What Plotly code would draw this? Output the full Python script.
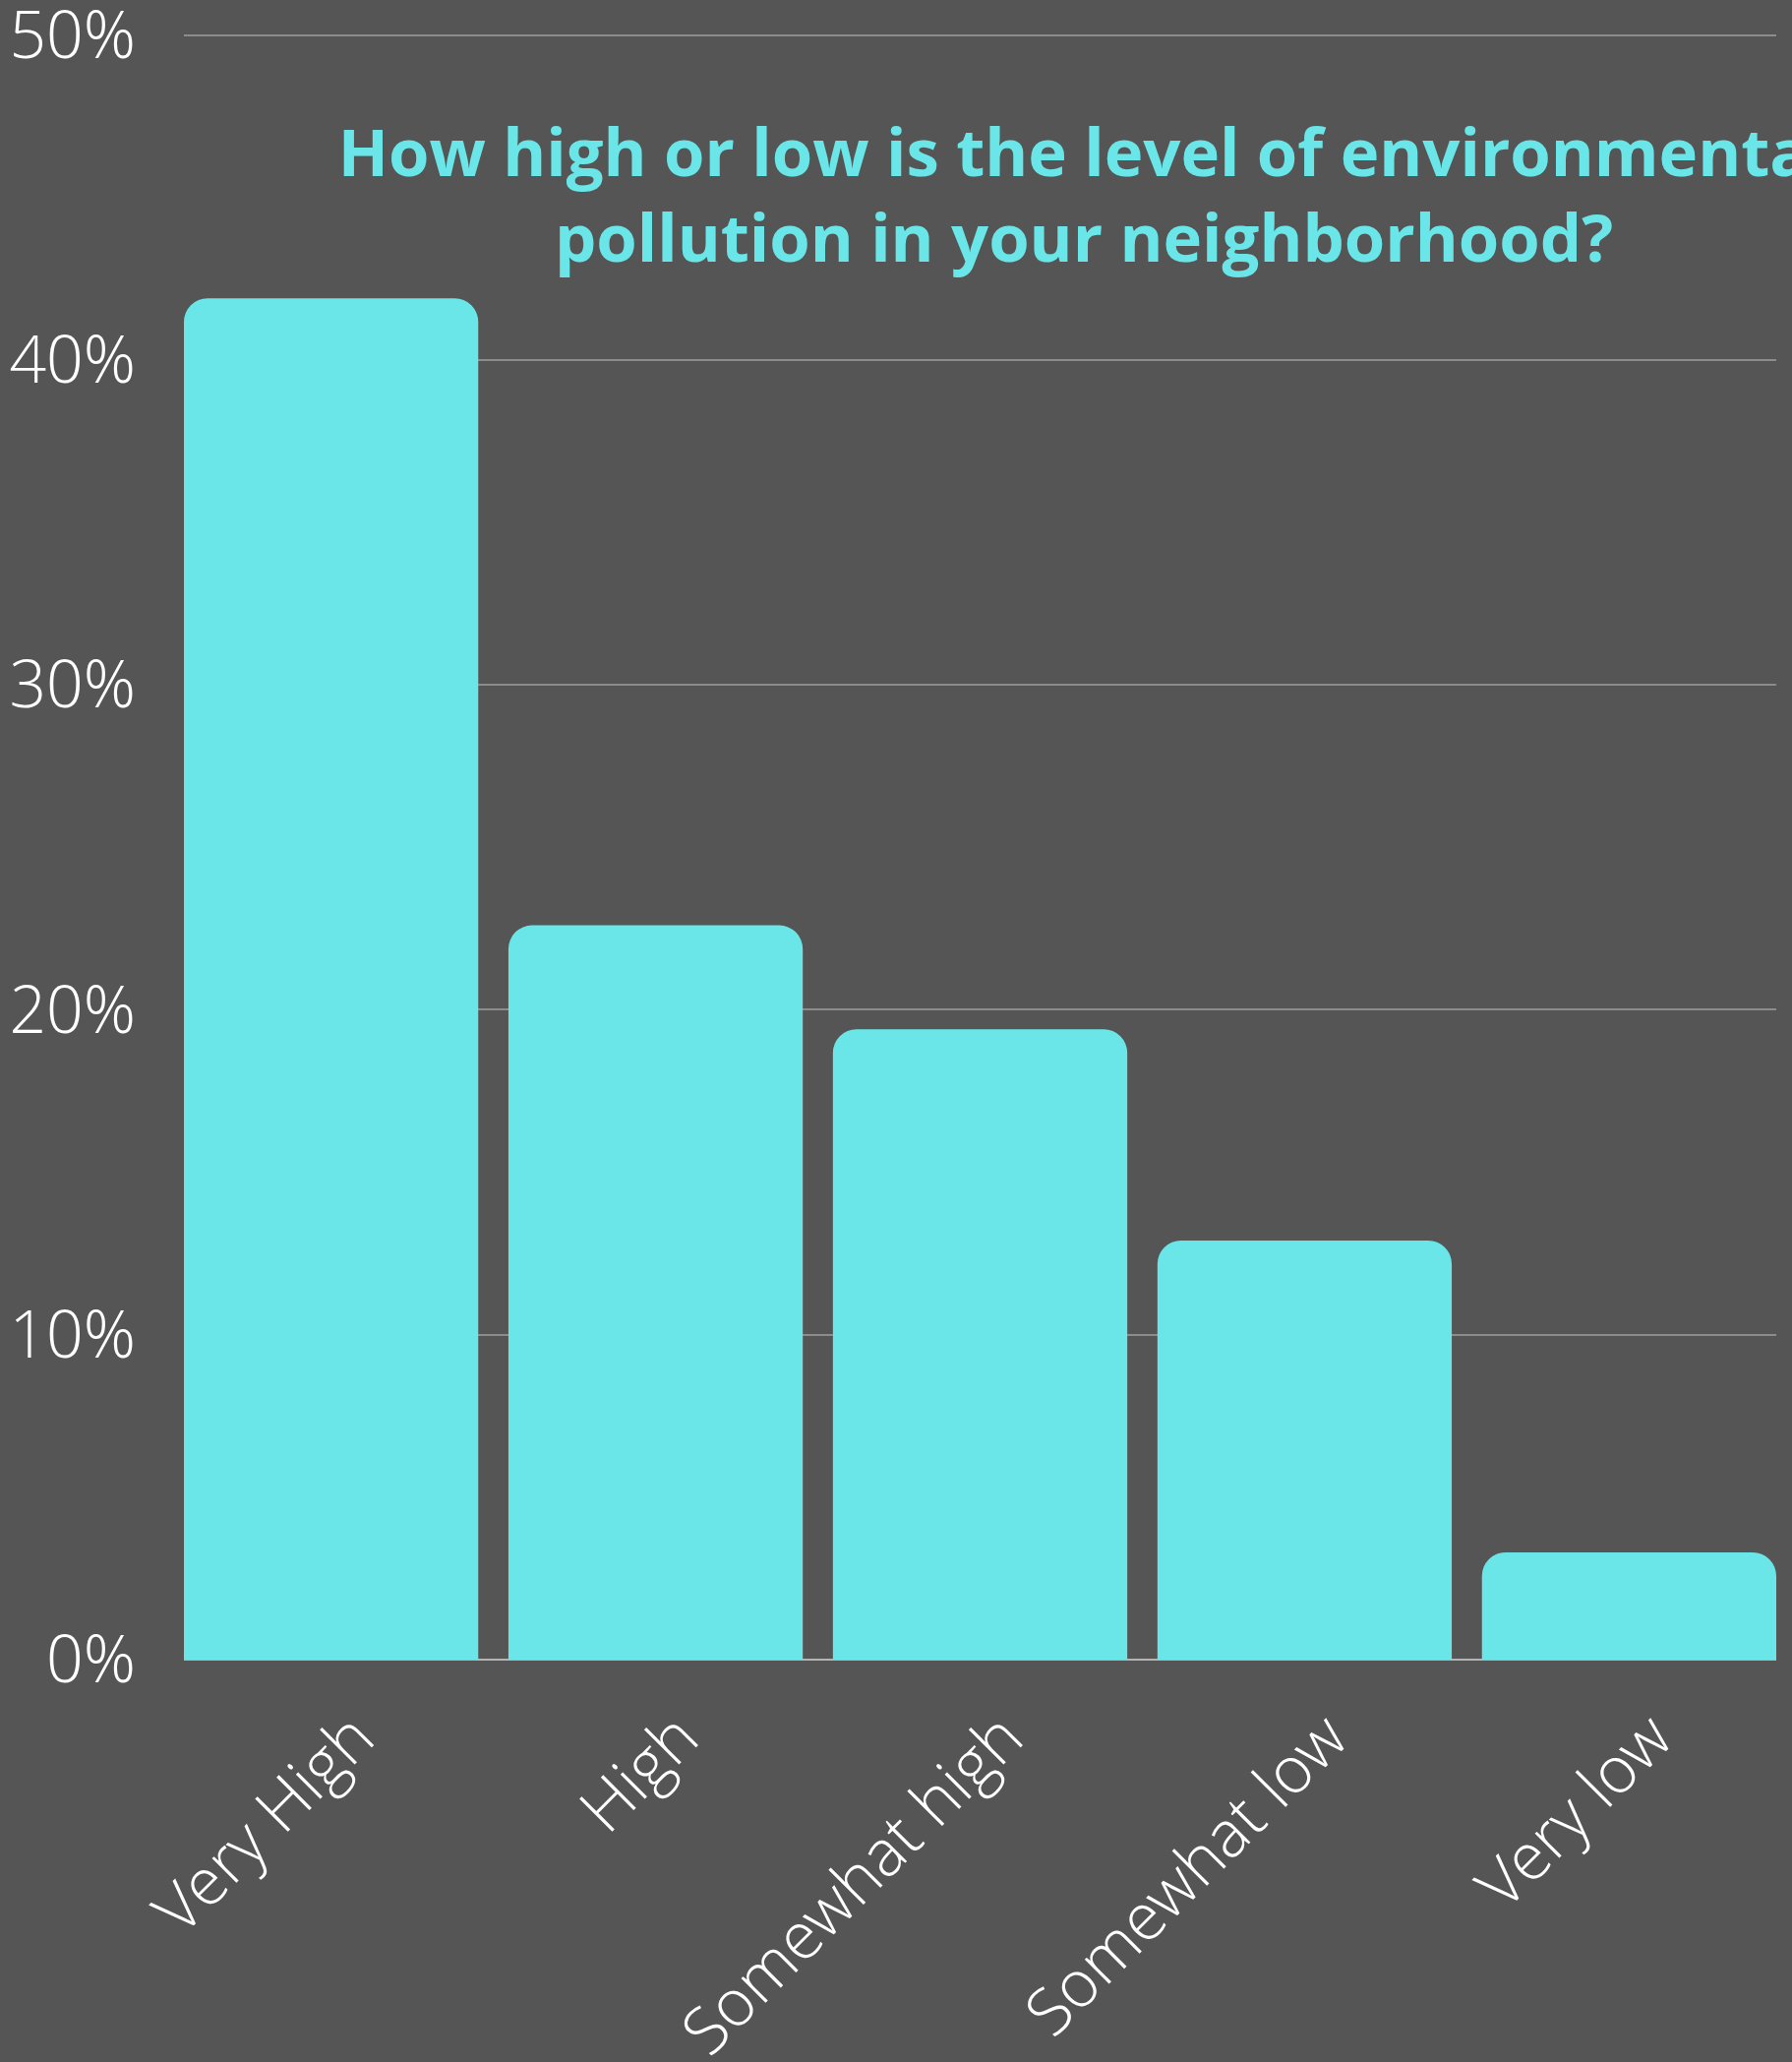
import plotly.graph_objects as go

categories = ["Very High", "High", "Somewhat high", "Somewhat low", "Very low"]
values = [41.9, 22.6, 19.4, 12.9, 3.3]
y_ticks = [0, 10, 20, 30, 40, 50]
y_tick_labels = ["0%", "10%", "20%", "30%", "40%", "50%"]
title_text = "How high or low is the level of environmental<br>pollution in your neighborhood?"

W, H = 1822, 2096
BG = "#555555"
BAR = "#6BE6E8"
light_font = dict(family="Open Sans Light, Open Sans", size=66, color="white", weight=300)

fig = go.Figure(
    go.Bar(x=categories, y=values, marker=dict(color=BAR, line=dict(width=0)))
)

bargap = 0.093
fig.update_layout(
    width=W, height=H,
    paper_bgcolor=BG, plot_bgcolor=BG,
    margin=dict(l=187, r=16, t=29, b=409, autoexpand=False),
    bargap=bargap,
    barcornerradius=24,
    showlegend=False,
    title=dict(
        text=title_text,
        x=1102 / W, xanchor="center", xref="container",
        y=1 - 179 / H, yanchor="top", yref="container",
        font=dict(family="Open Sans", size=67, color=BAR, weight="bold"),
    ),
)
fig.update_xaxes(
    range=[-0.5 + bargap / 2, len(categories) - 0.5 - bargap / 2],
    tickangle=-45, tickfont=light_font,
    showgrid=False, showline=False, ticks="", zeroline=False,
    ticklabelstandoff=26, ticklabelshift=24, ticklabeloverflow="allow",
)
fig.update_yaxes(
    range=[0, 50.2], tickvals=y_ticks, ticktext=y_tick_labels,
    tickfont=light_font, showgrid=True, gridcolor="#8c8c8c", gridwidth=2,
    zeroline=True, zerolinecolor="#b4b4b4", zerolinewidth=2,
    showline=False, ticks="", ticklabelstandoff=48, ticklabeloverflow="allow",
)

fig.write_html("out.html")
